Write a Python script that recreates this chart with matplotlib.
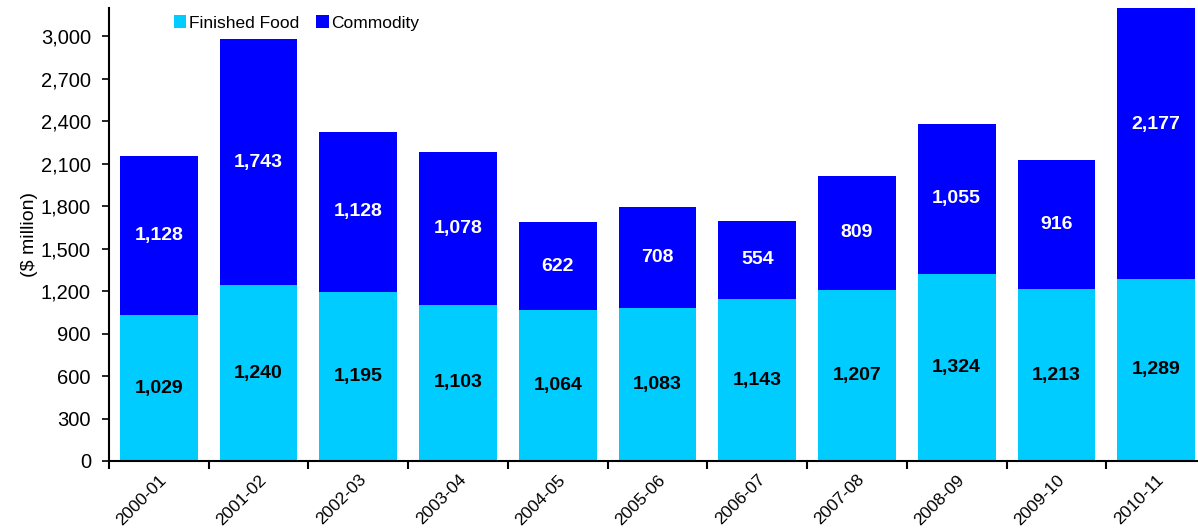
import numpy as np
import matplotlib
matplotlib.use('Agg')
import matplotlib.pyplot as plt

# stacked bars: finished food + commodity, $ million
years = ["2000-01", "2001-02", "2002-03", "2003-04", "2004-05", "2005-06",
         "2006-07", "2007-08", "2008-09", "2009-10", "2010-11"]
finished_food = [1029, 1240, 1195, 1103, 1064, 1083, 1143, 1207, 1324, 1213, 1289]
commodity = [1128, 1743, 1128, 1078, 622, 708, 554, 809, 1055, 916, 2177]
yticks = list(range(0, 3001, 300))

plt.rcParams['font.family'] = ['Liberation Sans', 'DejaVu Sans']

fig = plt.figure(figsize=(11.98, 5.29), dpi=100)
# axes runs a little past the right edge, like the original
ax = fig.add_axes([109/1198, 1-461/529, 1097/1198, 453/529])

x = np.arange(len(years))
cyan = "#00CCFF"
blue = "#0000FF"
ax.bar(x, finished_food, 0.78, color=cyan, label="Finished Food")
ax.bar(x, commodity, 0.78, bottom=finished_food, color=blue, label="Commodity")

for i in range(len(years)):
    ax.text(x[i], finished_food[i]/2, f"{finished_food[i]:,}", ha="center", va="center",
            fontsize=14, fontweight="bold", color="black")
    ax.text(x[i], finished_food[i] + commodity[i]/2, f"{commodity[i]:,}", ha="center",
            va="center", fontsize=14, fontweight="bold", color="white")

ax.set_xlim(-0.5, len(years) - 0.5)
ax.set_ylim(0, 3200)
ax.set_yticks(yticks)
ax.set_yticklabels([f"{v:,}" for v in yticks], fontsize=14.5)
ax.set_xticks(x - 0.5)
ax.set_xticklabels([])
ax.set_xticks(x, minor=True)
ax.set_xticklabels(years, minor=True, rotation=45, ha="right", rotation_mode="anchor", fontsize=12.5)
ax.tick_params(axis="x", which="minor", length=0, pad=8)
ax.tick_params(axis="x", which="major", length=6, width=1.5, direction="out")
ax.tick_params(axis="y", length=5, width=1.2, direction="out", pad=8)
ax.set_ylabel("($ million)", fontsize=14, labelpad=2)

for s in ["top", "right"]:
    ax.spines[s].set_visible(False)
ax.spines["left"].set_linewidth(1.5)
ax.spines["bottom"].set_linewidth(1.5)

ax.legend(loc="upper left", bbox_to_anchor=(0.045, 1.018), ncol=2, frameon=False,
          fontsize=12.5, handlelength=0.7, handleheight=0.7, handletextpad=0.15,
          columnspacing=1.0)

fig.savefig("out.png", dpi=100)
